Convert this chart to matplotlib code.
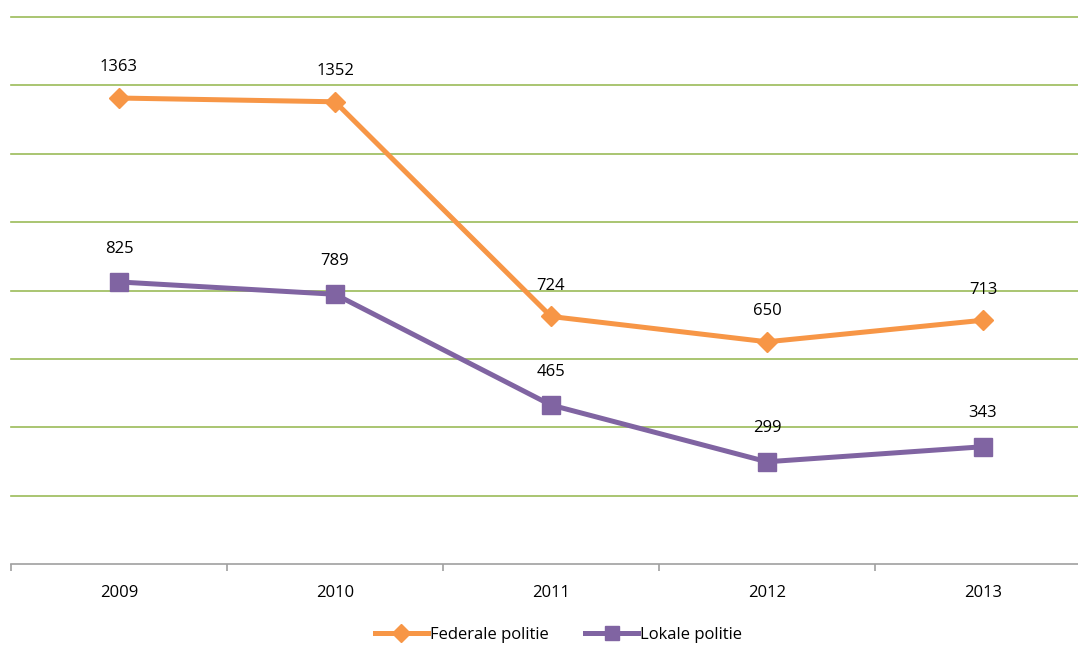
import matplotlib
matplotlib.use("Agg")
import matplotlib.pyplot as plt

# ─── Data ─────────────────────────────────────────────────────────────────────

years    = ["2009", "2010", "2011", "2012", "2013"]
federale = [1363, 1352, 724, 650, 713]
lokale   = [825, 789, 465, 299, 343]

ORANGE = "#F79646"
PURPLE = "#8064A2"
GRID   = "#9BBB59"

plt.rcParams["font.family"] = ["Open Sans", "DejaVu Sans"]

# ─── Plot ─────────────────────────────────────────────────────────────────────

fig = plt.figure(figsize=(10.78, 6.46), dpi=100)
# axes run slightly past the right edge, like the original export
ax = fig.add_axes([11 / 1078, 82 / 646, (1091 - 11) / 1078, (564 - 17) / 646])

x = list(range(len(years)))
ax.plot(x, federale, color=ORANGE, lw=3.6, marker="D", ms=10.5,
        label="Federale politie", zorder=3)
ax.plot(x, lokale, color=PURPLE, lw=3.6, marker="s", ms=12.5,
        label="Lokale politie", zorder=3)

for xi, v in zip(x, federale):
    ax.annotate(str(v), (xi, v), xytext=(0, 22), textcoords="offset points",
                ha="center", va="center", fontsize=12, color="black")
for xi, v in zip(x, lokale):
    ax.annotate(str(v), (xi, v), xytext=(0, 24), textcoords="offset points",
                ha="center", va="center", fontsize=12, color="black")

ax.set_ylim(0, 1600)
ax.set_xlim(-0.5, 4.5)
ax.set_yticks(range(200, 1601, 200))
ax.yaxis.grid(True, color=GRID, lw=1.2)
for gl in ax.get_ygridlines():
    gl.set_clip_on(False)
ax.set_axisbelow(True)
ax.tick_params(axis="y", left=False, labelleft=False)

for s in ["top", "right", "left"]:
    ax.spines[s].set_visible(False)
ax.spines["bottom"].set_color("#A0A0A0")
ax.spines["bottom"].set_linewidth(1.2)

ax.set_xticks([i - 0.5 for i in range(len(years) + 1)])
ax.set_xticklabels([])
ax.set_xticks(x, minor=True)
ax.set_xticklabels(years, minor=True, fontsize=12)
ax.tick_params(axis="x", which="major", length=5, color="#A0A0A0", width=1.2)
ax.tick_params(axis="x", which="minor", length=0, pad=15)

fig.legend(loc="center", bbox_to_anchor=(0.518, 11 / 646), ncol=2,
           frameon=False, fontsize=12, handlelength=3.2, handletextpad=0.1,
           columnspacing=2.2, markerscale=0.85)

fig.savefig("out.png", dpi=100)
